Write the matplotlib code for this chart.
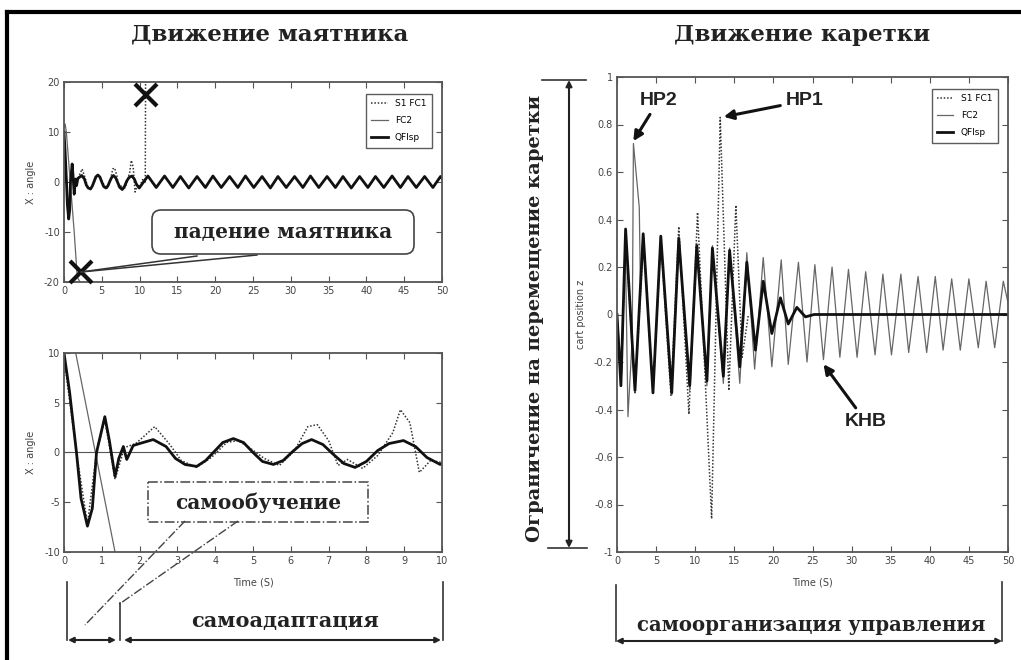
import matplotlib
matplotlib.use("Agg")
import matplotlib.pyplot as plt
from matplotlib.patches import FancyBboxPatch, Rectangle
from matplotlib.ticker import FuncFormatter

plt.rcParams['axes.unicode_minus'] = False
plt.rcParams['font.family'] = ['DejaVu Sans']

# pendulum angle, QFIsp (thick line)
qfi_t = [0, 0.15, 0.33, 0.45, 0.62, 0.75, 0.86, 1.08, 1.2, 1.35,
         1.45, 1.57, 1.66, 1.83, 2.0, 2.36, 2.7, 2.95, 3.2, 3.51,
         3.75, 4.0, 4.2, 4.48, 4.75, 5.0, 5.25, 5.54, 5.8, 6.05,
         6.3, 6.55, 6.85, 7.1, 7.4, 7.7, 8.0, 8.3, 8.6, 8.98,
         9.3, 9.6, 9.95,
         11.1, 12.2, 13.3, 14.4, 15.4, 16.5, 17.6, 18.7, 19.7, 20.8,
         21.9, 23.0, 24.0, 25.1, 26.2, 27.3, 28.3, 29.4, 30.5, 31.6,
         32.6, 33.7, 34.8, 35.9, 36.9, 38.0, 39.1, 40.2, 41.2, 42.3,
         43.4, 44.5, 45.5, 46.6, 47.7, 48.8, 49.8, 50.0]
qfi_angle = [10.0, 6.0, 0.0, -4.6, -7.4, -5.6, 0.0, 3.6, 1.2, -2.4,
             -0.6, 0.6, -0.7, 0.7, 0.9, 1.3, 0.6, -0.6, -1.2, -1.4,
             -0.8, 0.2, 1.0, 1.4, 1.0, 0.0, -0.9, -1.2, -0.8, 0.1,
             0.9, 1.3, 0.8, -0.1, -1.1, -1.5, -0.9, 0.2, 0.9, 1.2,
             0.6, -0.5, -1.2,
             1.2, -1.1, 1.2, -1.1, 1.1, -1.2, 1.1, -1.1, 1.2, -1.1,
             1.1, -1.1, 1.2, -1.1, 1.1, -1.2, 1.1, -1.1, 1.1, -1.1,
             1.2, -1.1, 1.1, -1.1, 1.1, -1.2, 1.1, -1.1, 1.1, -1.1,
             1.2, -1.1, 1.1, -1.1, 1.1, -1.1, 1.1, 0.8]

# pendulum angle, S1 FC1 (dotted) - falls at t~10.8
s1_t = [0, 0.33, 0.62, 0.86, 1.08, 1.35, 1.6, 1.9, 2.4, 2.8,
        3.1, 3.5, 3.9, 4.3, 4.6, 4.9, 5.3, 5.7, 6.1, 6.45,
        6.7, 7.0, 7.25, 7.5, 7.9, 8.3, 8.7, 8.9, 9.15, 9.4,
        9.7, 10.0, 10.4, 10.75, 10.8]
s1_angle = [9.5, 0.0, -7.2, 0.0, 3.3, -2.7, 0.5, 0.9, 2.6, 0.8,
            -0.8, -1.5, -0.5, 1.0, 1.2, 0.5, -0.6, -1.3, 0.2, 2.6,
            2.8, 1.2, -1.3, -0.7, -1.6, -0.3, 2.0, 4.3, 3.0, -2.0,
            -0.8, -1.0, 0.5, 0.0, 25.0]

# pendulum angle, FC2 (thin) - falls at t~1.7
fc2_t = [0, 0.15, 0.31, 1.35, 1.75, 2.3]
fc2_angle = [11.0, 11.6, 10.0, -10.0, -19.0, -20.5]

# cart position
qc_t = [0, 0.5, 1.1, 2.3, 3.35, 4.6, 5.6, 7.0, 7.9, 9.3,
        10.2, 11.5, 12.2, 13.6, 14.4, 15.7, 16.6, 17.7, 18.7, 19.8,
        20.9, 21.9, 23.0, 24.1, 25.2, 50]
qc_z = [0, -0.3, 0.36, -0.32, 0.34, -0.33, 0.33, -0.33, 0.32, -0.3,
        0.29, -0.28, 0.28, -0.26, 0.27, -0.22, 0.22, -0.15, 0.14, -0.08,
        0.07, -0.04, 0.03, -0.01, 0.0, 0.0]

fc_t = [0, 0.6, 1.05, 1.4, 1.95, 2.1, 2.85, 3.0, 3.36, 4.6,
        5.58, 7.0, 7.93, 9.3, 10.2, 11.5, 12.2, 13.6, 14.4, 15.7,
        16.6, 17.6, 18.7, 19.8, 21.0, 21.9, 23.2, 24.3, 25.3, 26.4,
        27.5, 28.5, 29.6, 30.7, 31.8, 33.0, 34.0, 35.1, 36.3, 37.3,
        38.5, 39.6, 40.7, 41.7, 42.8, 43.9, 45.0, 46.2, 47.2, 48.3,
        49.4, 50.0]
fc_z = [0.0, -0.25, 0.33, -0.43, -0.1, 0.72, 0.45, 0.1, 0.34, -0.33,
        0.33, -0.34, 0.33, -0.32, 0.30, -0.30, 0.29, -0.29, 0.28, -0.29,
        0.26, -0.23, 0.24, -0.22, 0.23, -0.21, 0.22, -0.20, 0.21, -0.19,
        0.20, -0.18, 0.19, -0.18, 0.18, -0.17, 0.17, -0.17, 0.17, -0.16,
        0.16, -0.16, 0.16, -0.15, 0.15, -0.15, 0.15, -0.14, 0.14, -0.14,
        0.14, 0.05]

sc_t = [0, 0.5, 1.1, 2.3, 3.4, 4.6, 5.6, 6.9, 7.9, 9.2,
        10.3, 12.1, 13.2, 14.3, 15.2, 16.0, 16.8]
sc_z = [0.0, -0.3, 0.32, -0.33, 0.32, -0.33, 0.31, -0.34, 0.37, -0.42,
        0.43, -0.86, 0.83, -0.32, 0.46, -0.18, 0.0]

legend_names = ['S1 FC1', 'FC2', 'QFIsp']

W, H = 1021, 660
fig = plt.figure(figsize=(W / 100, H / 100), dpi=100)
fig.patch.set_facecolor('white')

def box(l, t, r, b):
    return [l / W, 1 - b / H, (r - l) / W, (b - t) / H]

fmt = FuncFormatter(lambda v, p: '%g' % v)

def style(ax):
    ax.tick_params(direction='in', top=True, right=True, length=4, width=0.8,
                   labelsize=7, colors='#555', labelcolor='#444', pad=3)
    for s in ax.spines.values():
        s.set_color('#555')
        s.set_linewidth(1.3)
    ax.xaxis.set_major_formatter(fmt)
    ax.yaxis.set_major_formatter(fmt)

dot = (0, (1, 1.2))

def draw_angle(ax):
    ax.plot(s1_t, s1_angle, color='#333', lw=1.1, ls=dot, label=legend_names[0])
    ax.plot(fc2_t, fc2_angle, color='#666', lw=0.9, label=legend_names[1])
    ax.plot(qfi_t, qfi_angle, color='#111', lw=2.0, label=legend_names[2])

leg_kw = dict(loc='upper right', fontsize=6.5, handlelength=1.8, frameon=True,
              fancybox=False, edgecolor='#333', borderpad=0.6, labelspacing=0.9)

# top-left: pendulum angle 0..50
ax1 = fig.add_axes(box(64, 82, 442, 282))
draw_angle(ax1)
ax1.set_xlim(0, 50)
ax1.set_ylim(-20, 20)
ax1.set_xticks(range(0, 51, 5))
ax1.set_yticks([-20, -10, 0, 10, 20])
ax1.set_ylabel('X : angle', fontsize=7, color='#444', labelpad=6)
style(ax1)
ax1.legend(bbox_to_anchor=(0.985, 0.965), **leg_kw)
ax1.plot([10.8, 2.25], [17.5, -17.9], 'x', color='#111', ms=16, mew=3,
         clip_on=False, zorder=6)

# bottom-left: pendulum angle 0..10
ax2 = fig.add_axes(box(64, 353, 442, 552))
ax2.axhline(0, color='#555', lw=0.8)
draw_angle(ax2)
ax2.set_xlim(0, 10)
ax2.set_ylim(-10, 10)
ax2.set_xticks(range(0, 11))
ax2.set_yticks([-10, -5, 0, 5, 10])
ax2.set_ylabel('X : angle', fontsize=7, color='#444', labelpad=6)
ax2.set_xlabel('Time (S)', fontsize=7, color='#444', labelpad=8)
style(ax2)

# right: cart position
ax3 = fig.add_axes(box(617, 77, 1008, 552))
ax3.plot(sc_t, sc_z, color='#333', lw=1.1, ls=dot, label=legend_names[0])
ax3.plot(fc_t, fc_z, color='#666', lw=0.9, label=legend_names[1])
ax3.plot(qc_t, qc_z, color='#111', lw=2.0, label=legend_names[2])
ax3.set_xlim(0, 50)
ax3.set_ylim(-1, 1)
ax3.set_xticks(range(0, 51, 5))
ax3.set_yticks([-1, -0.8, -0.6, -0.4, -0.2, 0, 0.2, 0.4, 0.6, 0.8, 1])
ax3.set_ylabel('cart position z', fontsize=7, color='#444', labelpad=6)
ax3.set_xlabel('Time (S)', fontsize=7, color='#444', labelpad=8)
style(ax3)
ax3.legend(bbox_to_anchor=(0.985, 0.985), **leg_kw)

hp = dict(fontsize=14, fontweight='bold', family='Liberation Sans', color='#222')
arr = dict(arrowstyle='-|>', color='#111', lw=2.2, mutation_scale=14)
ax3.annotate('HP2', xy=(1.9, 0.72), xytext=(5.3, 0.9), ha='center', va='center',
             arrowprops=arr, **hp)
ax3.annotate('HP1', xy=(13.3, 0.83), xytext=(24.0, 0.9), ha='center', va='center',
             arrowprops=arr, **hp)
ax3.annotate('KHB', xy=(26.2, -0.2), xytext=(31.8, -0.45), ha='center', va='center',
             arrowprops=arr, **hp)

# overlay in pixel coordinates for the hand-drawn notes
ov = fig.add_axes([0, 0, 1, 1], zorder=10)
ov.set_xlim(0, W)
ov.set_ylim(H, 0)
ov.axis('off')
ov.patch.set_visible(False)

ov.plot([7, 7], [12, H], color='black', lw=3, clip_on=False)
ov.plot([7, W], [12, 12], color='black', lw=3, clip_on=False)

serif = dict(family='DejaVu Serif', fontweight='bold', color='#222')
ov.text(270, 35, 'Движение маятника', ha='center', va='center', fontsize=16.5, **serif)
ov.text(802, 35, 'Движение каретки', ha='center', va='center', fontsize=16.5, **serif)

# falling pendulum note
ov.add_patch(FancyBboxPatch((152, 210), 262, 44, boxstyle='round,pad=0,rounding_size=9',
                            fc='white', ec='#444', lw=1.2, zorder=5))
ov.text(283, 232, 'падение маятника', ha='center', va='center', fontsize=14.5,
        zorder=6, **serif)
ov.plot([81, 197], [272, 256], color='#333', lw=1.1)
ov.plot([81, 257], [272, 255], color='#333', lw=1.1)

# self-learning note
ov.add_patch(Rectangle((148, 482), 220, 40, fill=False, ec='#444', lw=1.1, ls='-.'))
ov.text(258, 503, 'самообучение', ha='center', va='center', fontsize=14.5, **serif)
ov.plot([185, 85], [521, 625], color='#444', lw=1.0, ls='-.')
ov.plot([238, 118], [521, 605], color='#444', lw=1.0, ls='-.')

# self-adaptation bracket
ov.plot([67, 67], [582, 640], color='#333', lw=1.2)
ov.plot([120, 120], [603, 640], color='#333', lw=1.2)
ov.plot([443, 443], [582, 640], color='#333', lw=1.2)
ba = dict(arrowstyle='<|-|>', color='#222', lw=1.5, mutation_scale=8,
          shrinkA=0, shrinkB=0)
ov.annotate('', xy=(116, 640), xytext=(68, 640), arrowprops=ba)
ov.annotate('', xy=(441, 640), xytext=(124, 640), arrowprops=ba)
ov.text(285, 621, 'самоадаптация', ha='center', va='center', fontsize=15, **serif)

# self-organisation bracket
ov.plot([616, 616], [585, 641], color='#333', lw=1.2)
ov.plot([1002, 1002], [582, 641], color='#333', lw=1.2)
ov.annotate('', xy=(1002, 641), xytext=(616, 641), arrowprops=ba)
ov.text(811, 625, 'самоорганизация управления', ha='center', va='center',
        fontsize=14.2, **serif)

# cart travel limit
ov.plot([542, 586], [80, 80], color='#333', lw=1.2)
ov.plot([548, 587], [548, 548], color='#333', lw=1.2)
ov.annotate('', xy=(569, 80), xytext=(569, 548), arrowprops=dict(
    arrowstyle='<|-|>', color='#222', lw=1.5, mutation_scale=9, shrinkA=0, shrinkB=0))
ov.text(535, 318, 'Ограничение на перемещение каретки', ha='center', va='center',
        rotation=90, fontsize=14, **serif)

fig.savefig('out.png', dpi=100, facecolor='white')
